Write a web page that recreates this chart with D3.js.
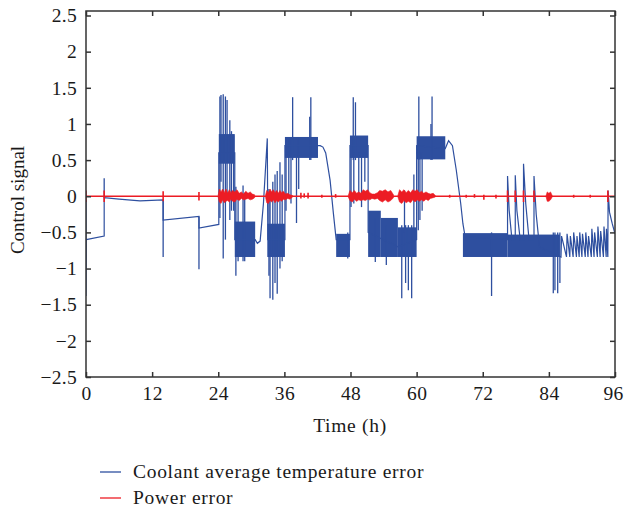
<!DOCTYPE html>
<html>
<head>
<meta charset="utf-8">
<script src="https://cdnjs.cloudflare.com/ajax/libs/d3/7.8.5/d3.min.js"></script>
<style>
body { margin: 0; background: #fff; }
text { font-family: "Liberation Serif", "DejaVu Serif", serif; fill: #1a1a1a; }
</style>
</head>
<body>
<div class="chart"></div>
<script>
// tick labels
var xTicks = [0, 12, 24, 36, 48, 60, 72, 84, 96];
var yTicks = [2.5, 2, 1.5, 1, 0.5, 0, -0.5, -1, -1.5, -2, -2.5];

// coolant average temperature error, slow part of the signal [t (h), value]
var blueTrend = [
  [0, -0.05], [0, -1.38], [0.05, -0.6], [3.3, -0.55], [3.3, -0.02], [6, -0.04], [9.8, -0.065],
  [14, -0.05], [14, -0.33], [20.5, -0.28], [20.5, -0.44], [24.1, -0.39], [24.1, 0.6], [27, 0.6],
  [27, -0.6], [30.7, -0.6], [31.1, -0.65], [31.6, -0.62], [32.2, -0.1], [32.9, 0.8], [33, -0.6],
  [36.1, -0.6], [36.1, 0.7], [42.1, 0.7], [42.5, 0.7], [43, 0.68], [43.5, 0.6], [44.3, 0.22],
  [44.9, -0.24], [45.4, -0.6], [47.9, -0.6], [47.9, 0.7], [51.2, 0.7], [51.2, -0.5], [56.6, -0.7],
  [60, -0.6], [60, 0.7], [65.2, 0.66], [65.8, 0.77], [66.5, 0.7], [67.2, 0.36], [68, -0.1],
  [68.4, -0.38], [68.8, -0.56], [76.5, -0.6], [76.5, 0.28], [76.8, -0.2], [77.3, -0.6],
  [77.9, -0.6], [77.9, 0.29], [78.2, -0.2], [78.8, -0.6], [79.4, -0.6], [79.4, 0.45], [79.8, -0.1],
  [80.4, -0.6], [81.3, -0.6], [81.3, 0.28], [81.7, -0.25], [82.3, -0.7], [86.2, -0.84],
  [86.3, -0.55], [87.2, -0.84], [87.3, -0.52], [87.8, -0.84], [87.9, -0.55], [88.4, -0.84],
  [88.5, -0.5], [89.0, -0.84], [89.1, -0.55], [89.5, -0.84], [89.6, -0.5], [90.0, -0.84],
  [90.1, -0.52], [90.6, -0.84], [90.7, -0.5], [91.1, -0.84], [91.2, -0.55], [91.7, -0.84],
  [91.8, -0.45], [92.2, -0.84], [92.3, -0.5], [92.8, -0.84], [92.9, -0.42], [93.3, -0.84],
  [93.4, -0.48], [93.9, -0.84], [94.0, -0.42], [94.4, -0.84], [94.45, -0.45], [94.7, -0.84],
  [94.75, 0.08], [95.0, -0.22], [95.5, -0.38], [96, -0.52]
];

// dense oscillation blocks [t0, t1, low, high]
var blueBands = [
  [24.1, 27.0, 0.45, 0.86], [27.0, 30.7, -0.84, -0.35], [32.9, 36.1, -0.84, -0.38],
  [36.1, 42.1, 0.53, 0.82], [45.4, 47.9, -0.84, -0.52], [47.9, 51.2, 0.53, 0.84],
  [51.2, 53.5, -0.84, -0.2], [53.5, 56.6, -0.84, -0.3], [56.6, 60.0, -0.84, -0.43],
  [60.0, 65.2, 0.51, 0.83], [68.4, 76.5, -0.84, -0.51], [76.5, 86.0, -0.84, -0.53]
];

// single excursions [t, low, high]
var blueSpikes = [
  [3.3, -0.02, 0.25], [14, -0.84, -0.05], [20.5, -1.01, -0.28],
  [24.3, -0.3, 1.38], [24.5, 0.2, 1.4], [24.9, -0.86, 1.41], [25.3, -0.6, 1.38], [25.6, 0.0, 1.33],
  [26.1, -0.33, 1.05], [26.4, -0.2, 0.9], [26.8, -0.2, 0.84],
  [27.2, -1.1, 0.13], [27.6, -0.9, 0.0], [28.5, -0.9, 0.15], [28.8, -0.9, 0.05],
  [33.2, -1.1, 0.1], [33.4, -1.41, 0.0], [33.9, -1.43, 0.2], [34.3, -1.2, 0.3], [34.7, -1.35, 0.35],
  [35.2, -1.0, 0.47], [35.6, -0.9, 0.3],
  [36.3, -0.2, 0.8], [36.8, 0.0, 0.8], [37.2, -0.1, 0.8], [37.5, 0.5, 1.37], [38.2, -0.37, 0.8],
  [38.6, 0.1, 0.8], [40.6, 0.5, 1.1], [40.8, 0.5, 1.37],
  [47.5, -0.86, -0.5], [48.1, -0.15, 0.6], [48.5, 0.5, 1.37], [48.6, -0.1, 0.6], [48.9, 0.5, 1.3],
  [49.5, 0.0, 0.6], [50.0, -0.15, 0.6], [50.6, 0.2, 0.6],
  [52.5, -0.91, -0.3], [54.5, -0.95, -0.4],
  [57.3, -1.41, -0.4], [57.8, -0.5, 0.08], [58.0, -1.2, -0.4], [58.5, -1.3, -0.4], [59.1, -1.41, -0.4],
  [59.5, -0.5, 0.3],
  [60.3, -0.47, 0.6], [60.4, 0.5, 1.38], [60.6, -0.33, 0.6], [61.0, -0.2, 0.6], [62.6, 0.5, 1.0],
  [62.8, 0.5, 1.38],
  [73.6, -1.38, -0.5], [84.8, -1.34, -0.5], [85.1, -1.3, -0.5], [85.6, -1.34, -0.5], [86.0, -1.2, -0.5]
];

// power error noise envelopes, one list per burst [t, up, down]
var redBursts = [
  [[24.0, 0.02, 0.02], [24.2, 0.1, 0.08], [24.5, 0.06, 0.1], [24.8, 0.1, 0.05], [25.1, 0.05, 0.09],
   [25.4, 0.1, 0.07], [25.7, 0.04, 0.06], [26.0, 0.09, 0.08], [26.3, 0.05, 0.04], [26.6, 0.08, 0.07],
   [27.0, 0.06, 0.08], [27.4, 0.09, 0.04], [27.8, 0.04, 0.06], [28.2, 0.06, 0.03], [28.6, 0.03, 0.05],
   [29.0, 0.07, 0.04], [29.4, 0.04, 0.03], [29.8, 0.06, 0.05], [30.2, 0.03, 0.04], [30.6, 0.02, 0.02]],
  [[32.6, 0.02, 0.02], [32.8, 0.08, 0.09], [33.1, 0.05, 0.1], [33.4, 0.1, 0.06], [33.7, 0.06, 0.08],
   [34.0, 0.09, 0.05], [34.3, 0.05, 0.09], [34.6, 0.08, 0.06], [34.9, 0.04, 0.08], [35.2, 0.08, 0.05],
   [35.5, 0.05, 0.07], [35.8, 0.07, 0.04], [36.2, 0.03, 0.05], [36.6, 0.04, 0.03], [37.0, 0.02, 0.04],
   [37.5, 0.01, 0.01]],
  [[47.6, 0.01, 0.01], [47.9, 0.08, 0.06], [48.3, 0.05, 0.08], [48.7, 0.08, 0.04], [49.1, 0.04, 0.07],
   [49.5, 0.06, 0.05], [49.9, 0.04, 0.06], [50.3, 0.09, 0.05], [50.7, 0.07, 0.06], [51.1, 0.09, 0.04],
   [51.5, 0.05, 0.05], [51.9, 0.03, 0.03], [52.4, 0.03, 0.04], [52.9, 0.05, 0.03], [53.3, 0.08, 0.06],
   [53.8, 0.07, 0.08], [54.3, 0.09, 0.05], [54.8, 0.06, 0.08], [55.3, 0.08, 0.06], [55.8, 0.02, 0.02]],
  [[56.6, 0.01, 0.01], [56.9, 0.09, 0.08], [57.3, 0.06, 0.1], [57.7, 0.09, 0.06], [58.1, 0.05, 0.09],
   [58.5, 0.08, 0.07], [58.9, 0.05, 0.09], [59.3, 0.09, 0.05], [59.7, 0.07, 0.08], [60.1, 0.09, 0.05],
   [60.5, 0.05, 0.07], [60.9, 0.07, 0.05], [61.3, 0.04, 0.07], [61.7, 0.06, 0.04], [62.1, 0.04, 0.06],
   [62.5, 0.03, 0.03], [63.0, 0.04, 0.02], [63.4, 0.01, 0.01]],
  [[83.5, 0.01, 0.01], [83.7, 0.06, 0.07], [84.0, 0.04, 0.07], [84.3, 0.06, 0.05], [84.6, 0.01, 0.01]]
];

// power error single ticks [t, up, down]
var redSpikes = [
  [0, 0.08, 0.08], [3.3, 0.08, 0.08], [14, 0.07, 0.07], [20.5, 0.06, 0.06], [39.0, 0.05, 0.03],
  [39.6, 0.04, 0.02], [40.3, 0.05, 0.03], [42.8, 0.02, 0.02], [45.3, 0.03, 0.02], [66, 0.02, 0.02],
  [69, 0.02, 0.02], [70.5, 0.03, 0.02], [72.2, 0.02, 0.05], [74.4, 0.02, 0.03], [76.5, 0.08, 0.08],
  [77.9, 0.08, 0.08], [79.4, 0.08, 0.08], [81.3, 0.08, 0.08], [88.5, 0.02, 0.02], [91.5, 0.02, 0.02],
  [94.7, 0.08, 0.08]
];

var blue = "#2e4f9f", red = "#ec1c24";

var svg = d3.select(".chart").append("svg")
    .attr("width", 624)
    .attr("height", 511);

var x = d3.scaleLinear().domain([0, 96]).range([86, 615]);
var y = d3.scaleLinear().domain([-2.5, 2.5]).range([377, 15.5]);

svg.append("clipPath").attr("id", "plot")
  .append("rect").attr("x", 86).attr("y", 11).attr("width", 529).attr("height", 366);

var g = svg.append("g").attr("clip-path", "url(#plot)");

// blue signal
g.selectAll(".band").data(blueBands).enter().append("rect")
    .attr("class", "band")
    .attr("x", function(d) { return x(d[0]); })
    .attr("width", function(d) { return x(d[1]) - x(d[0]); })
    .attr("y", function(d) { return y(d[3]); })
    .attr("height", function(d) { return y(d[2]) - y(d[3]); })
    .style("fill", blue);

g.selectAll(".spike").data(blueSpikes).enter().append("line")
    .attr("class", "spike")
    .attr("x1", function(d) { return x(d[0]); })
    .attr("x2", function(d) { return x(d[0]); })
    .attr("y1", function(d) { return y(d[1]); })
    .attr("y2", function(d) { return y(d[2]); })
    .style("stroke", blue).style("stroke-width", 1.3);

var line = d3.line().x(function(d) { return x(d[0]); }).y(function(d) { return y(d[1]); });
g.append("path").datum(blueTrend)
    .attr("d", line)
    .style("fill", "none").style("stroke", blue).style("stroke-width", 1.2);

// red signal
g.append("line")
    .attr("x1", x(0)).attr("x2", x(96)).attr("y1", y(0)).attr("y2", y(0))
    .style("stroke", red).style("stroke-width", 1.6);

var area = d3.area()
    .x(function(d) { return x(d[0]); })
    .y0(function(d) { return y(-d[2]); })
    .y1(function(d) { return y(d[1]); });
g.selectAll(".burst").data(redBursts).enter().append("path")
    .attr("class", "burst")
    .attr("d", area)
    .style("fill", red).style("stroke", red).style("stroke-width", 0.6);

g.selectAll(".rtick").data(redSpikes).enter().append("line")
    .attr("class", "rtick")
    .attr("x1", function(d) { return x(d[0]); })
    .attr("x2", function(d) { return x(d[0]); })
    .attr("y1", function(d) { return y(d[1]); })
    .attr("y2", function(d) { return y(-d[2]); })
    .style("stroke", red).style("stroke-width", 1.6);

// axes box
var axisColor = "#333";
svg.append("rect")
    .attr("x", 86).attr("y", 11).attr("width", 529).attr("height", 366)
    .style("fill", "none").style("stroke", axisColor).style("stroke-width", 1.5);

var fmt = d3.format("");
var xAxis = svg.append("g").attr("transform", "translate(0,377)")
    .call(d3.axisBottom(x).tickValues(xTicks).tickFormat(fmt).tickSizeInner(-5).tickSizeOuter(0).tickPadding(9));
var xTop = svg.append("g").attr("transform", "translate(0,11)")
    .call(d3.axisTop(x).tickValues(xTicks).tickSizeInner(-5).tickSizeOuter(0).tickFormat(""));
var yAxis = svg.append("g").attr("transform", "translate(86,0)")
    .call(d3.axisLeft(y).tickValues(yTicks).tickFormat(fmt).tickSizeInner(-5).tickSizeOuter(0).tickPadding(9));
var yRight = svg.append("g").attr("transform", "translate(615,0)")
    .call(d3.axisRight(y).tickValues(yTicks).tickSizeInner(-5).tickSizeOuter(0).tickFormat(""));

[xAxis, xTop, yAxis, yRight].forEach(function(a) {
  a.select(".domain").remove();
  a.selectAll("line").style("stroke", axisColor).style("stroke-width", 1.5);
  a.selectAll("text").style("font-family", "Liberation Serif, serif").style("font-size", "19.5px")
    .style("letter-spacing", "0.3px").style("fill", "#1a1a1a");
});
// keep the last x label inside the window
xAxis.selectAll(".tick text").filter(function(d) { return d === 96; }).attr("dx", "-2px");

svg.append("text")
    .attr("x", 350).attr("y", 432)
    .attr("text-anchor", "middle")
    .style("font-size", "19.5px").style("letter-spacing", "0.7px")
    .text("Time (h)");

svg.append("text")
    .attr("transform", "translate(24,200) rotate(-90)")
    .attr("text-anchor", "middle")
    .style("font-size", "19px")
    .text("Control signal");

// legend
var legend = [["Coolant average temperature error", blue, 472], ["Power error", red, 498]];
legend.forEach(function(l) {
  svg.append("line")
      .attr("x1", 100).attr("x2", 121).attr("y1", l[2]).attr("y2", l[2])
      .style("stroke", l[1]).style("stroke-width", 1.3);
  svg.append("text")
      .attr("x", 133).attr("y", l[2] + 6)
      .style("font-size", "19.5px").style("letter-spacing", "0.7px")
      .text(l[0]);
});
</script>
</body>
</html>
